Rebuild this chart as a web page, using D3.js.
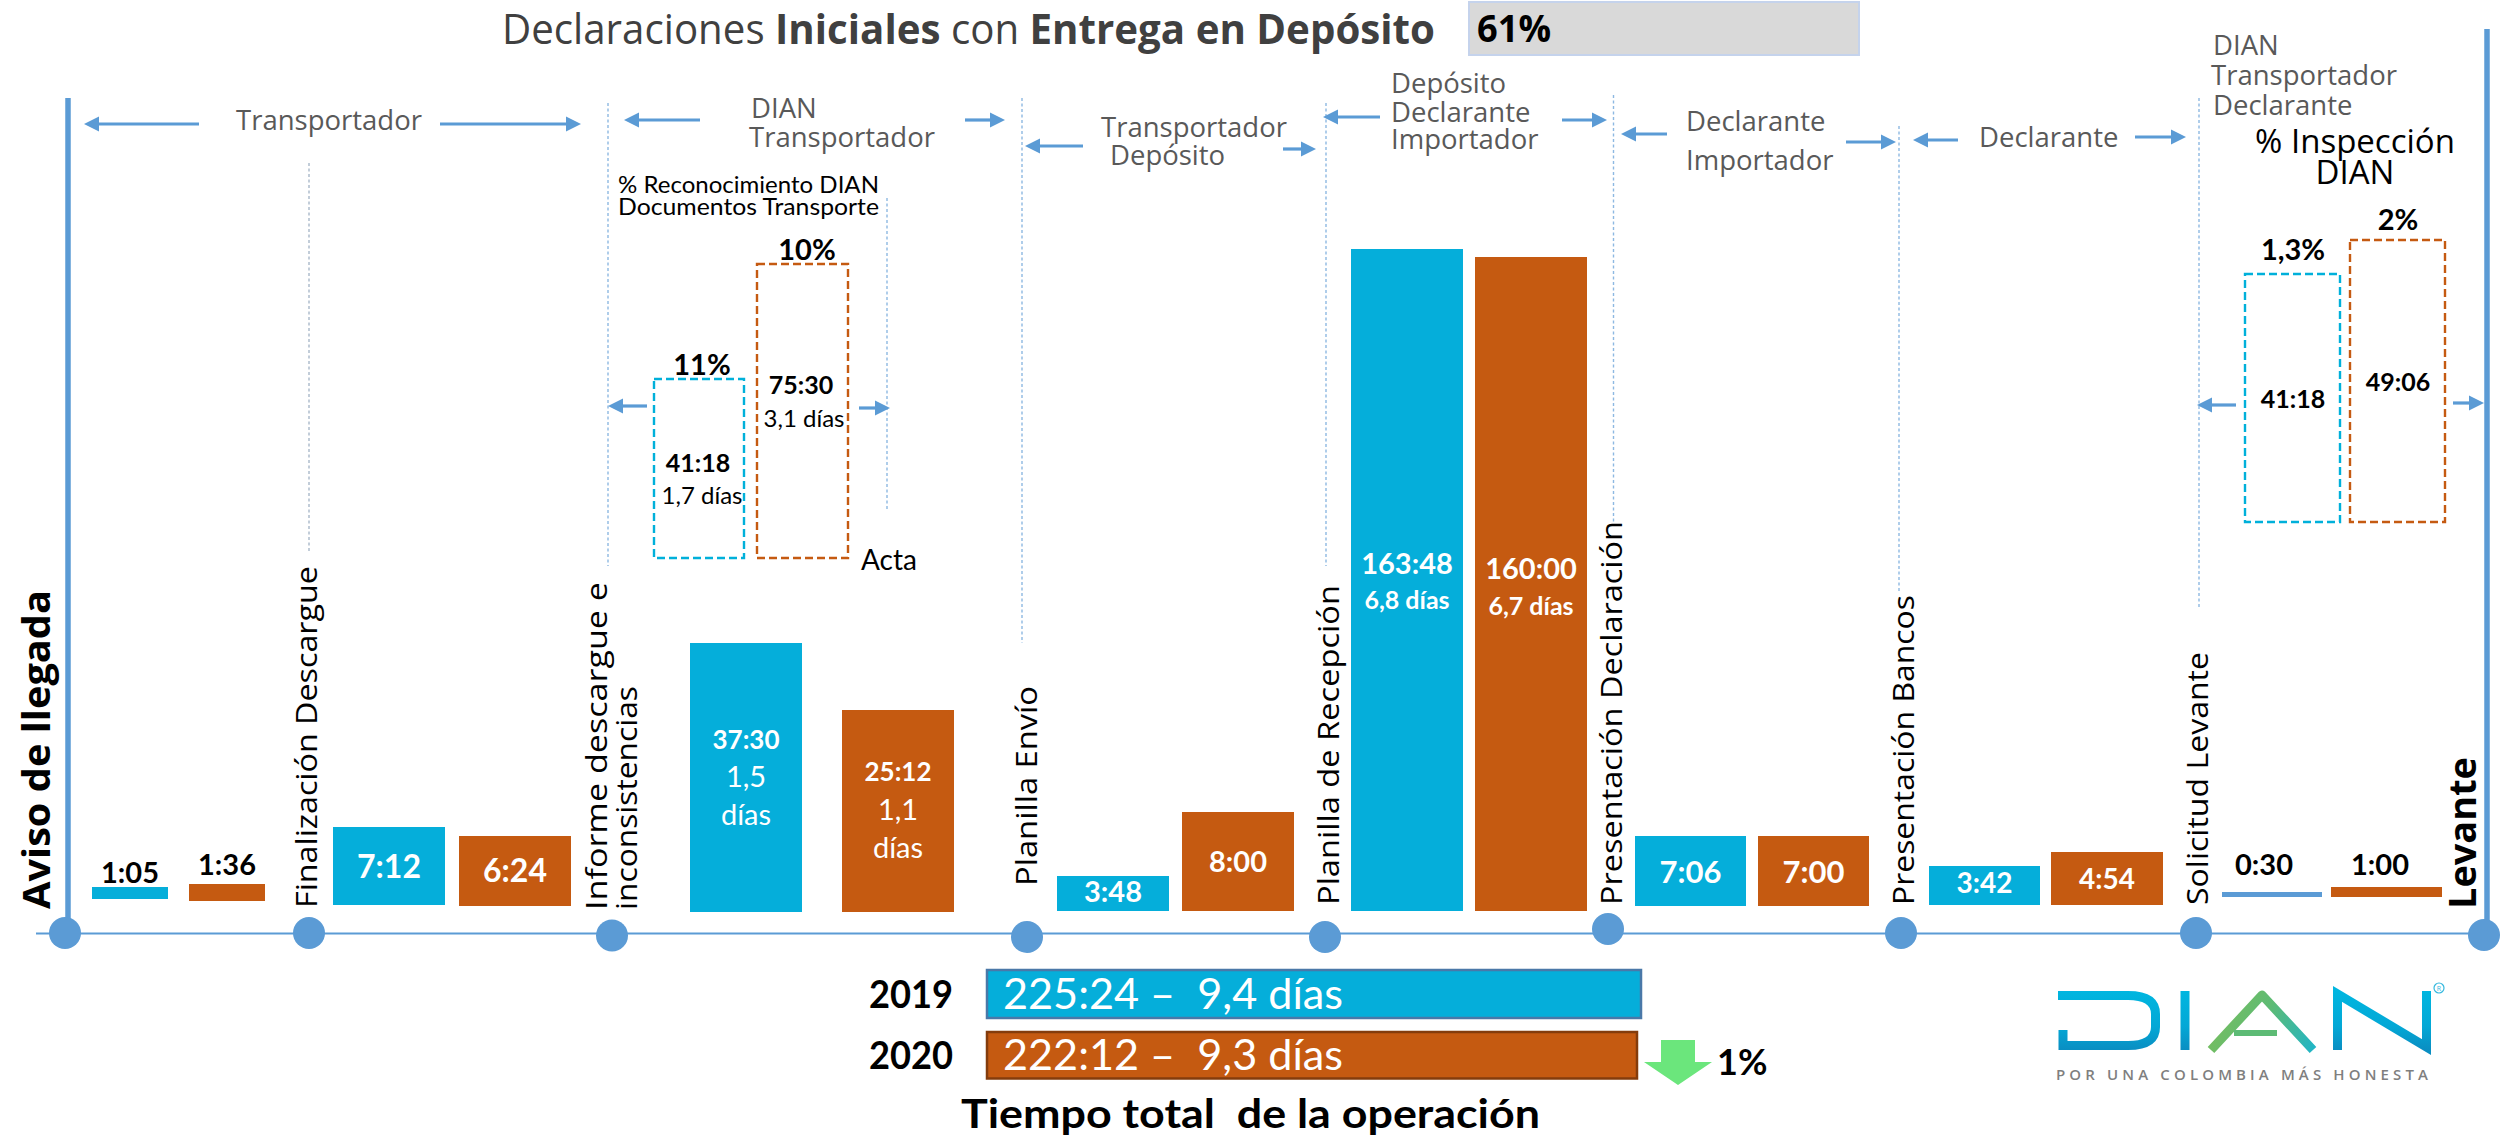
<!DOCTYPE html>
<html lang="es">
<head>
<meta charset="utf-8">
<title>Declaraciones Iniciales con Entrega en Depósito</title>
<script src="https://cdn.jsdelivr.net/npm/d3@7/dist/d3.min.js"></script>
<style>
html,body{margin:0;padding:0;background:#fff;overflow:hidden}
svg{display:block}
text{font-family:"Open Sans",sans-serif;white-space:pre}
</style>
</head>
<body>
<svg id="chart" width="2501" height="1139"></svg>
<script>
// ---------- DATA ----------
const years = ["2019", "2020"];
const segments = ["Descargue", "Informe", "Planilla Envío", "Planilla Recepción", "Declaración", "Bancos", "Levante solicitud", "Levante"];
const times2019 = ["1:05", "7:12", "37:30", "3:48", "163:48", "7:06", "3:42", "0:30"];
const times2020 = ["1:36", "6:24", "25:12", "8:00", "160:00", "7:00", "4:54", "1:00"];
const days2019 = [null, null, ["1,5", "días"], null, ["6,8 días"], null, null, null];
const days2020 = [null, null, ["1,1", "días"], null, ["6,7 días"], null, null, null];
const reconocimientoTimes = ["41:18", "75:30"];
const reconocimientoDays = ["1,7 días", "3,1 días"];
const reconocimientoPct = ["11%", "10%"];
const inspeccionTimes = ["41:18", "49:06"];
const inspeccionPct = ["1,3%", "2%"];
const totalTimes = ["225:24", "222:12"];
const totalDays = ["9,4 días", "9,3 días"];
const titleParts = [["Declaraciones ", 400], ["Iniciales", 700], [" con ", 400], ["Entrega en Depósito", 700]];
const depositShare = "61%";
const reduction = "1%";
const milestoneNames = [["Aviso de llegada"], ["Finalización Descargue"], ["Informe descargue e", "inconsistencias"], ["Planilla Envío"], ["Planilla de Recepción"], ["Presentación Declaración"], ["Presentación Bancos"], ["Solicitud Levante"], ["Levante"]];
const actorGroups = [["Transportador"], ["DIAN", "Transportador"], ["Transportador", "Depósito"], ["Depósito", "Declarante", "Importador"], ["Declarante", "Importador"], ["Declarante"], ["DIAN", "Transportador", "Declarante"]];

// ---------- LAYOUT ----------
const hours = s => { const [h, m] = s.split(":").map(Number); return h + m / 60; };
const BLUE = "#05AEDA", ORANGE = "#C55A11", STEEL = "#5B9BD5", GREY = "#595959";
const svg = d3.select("#chart");

// The picture's bars are not proportional to time, so their length follows a piecewise scale.
const barLength = d3.scaleLinear()
  .domain([0.5, 1, 65 / 60, 1.6, 3.7, 3.8, 4.9, 6.4, 7, 7.1, 7.2, 8, 25.2, 37.5, 160, 163.8])
  .range([5, 10, 12, 17, 39, 35, 53, 70, 70, 70, 78, 99, 202, 269, 654, 662]);
const boxLengthLeft = d3.scaleLinear().domain([hours("41:18"), hours("75:30")]).range([179, 294]);
const boxLengthRight = d3.scaleLinear().domain([hours("41:18"), hours("49:06")]).range([248, 282]);
const totalLength = d3.scaleLinear().domain([0, hours("222:12"), hours("225:24")]).range([0, 650, 654]);

const left = {
  "2019": d3.scaleOrdinal(segments, [92, 333, 690, 1057, 1351, 1635, 1929, 2222]),
  "2020": d3.scaleOrdinal(segments, [189, 459, 842, 1182, 1475, 1758, 2051, 2331])
};
const width = {
  "2019": d3.scaleOrdinal(segments, [76, 112, 112, 112, 112, 111, 111, 100]),
  "2020": d3.scaleOrdinal(segments, [76, 112, 112, 112, 112, 111, 112, 111])
};
const base = {
  "2019": d3.scaleOrdinal(segments, [899, 905, 912, 911, 911, 906, 905, 897]),
  "2020": d3.scaleOrdinal(segments, [901, 906, 912, 911, 911, 906, 905, 897])
};
// label anchors: [baseline of the time, baseline(s) of the days]
const labelY = {
  "2019": [[883], [878], [749, 787, 825], [902], [574, 609], [883], [893], [875]],
  "2020": [[875], [882], [781, 820, 858], [872], [579, 615], [883], [889], [875]]
};
const labelSize = [29, 32, 26, 29, 29, 31, 28, 29];

const milestoneX = [65, 309, 612, 1027, 1325, 1608, 1901, 2196, 2484];
const milestoneY = [933, 933, 935.5, 937, 937, 929, 933, 933, 935];

function txt(x, y, s, o = {}) {
  const t = svg.append("text").attr("x", x).attr("y", y).text(s)
    .attr("font-size", o.size || 27).attr("fill", o.fill || "#000")
    .attr("font-weight", o.weight || 400).attr("text-anchor", o.anchor || "start")
    .style("font-family", o.font || null);
  if (o.len) t.attr("textLength", o.len).attr("lengthAdjust", o.adjust || "spacingAndGlyphs");
  return t;
}
function vtxt(x, y, s, o = {}) {
  const t = svg.append("text").attr("transform", `translate(${x},${y}) rotate(-90)`).text(s)
    .attr("font-size", o.size || 30).attr("fill", "#000").attr("font-weight", o.weight || 400);
  if (o.len) t.attr("textLength", o.len).attr("lengthAdjust", "spacingAndGlyphs");
  return t;
}
function arrow(tail, tip, y) {
  const d = tip > tail ? 1 : -1;
  svg.append("line").attr("x1", tail).attr("x2", tip - d * 12).attr("y1", y).attr("y2", y)
    .attr("stroke", STEEL).attr("stroke-width", 3.2);
  svg.append("path").attr("fill", STEEL)
    .attr("d", d3.line()([[tip, y], [tip - d * 15, y - 7.5], [tip - d * 15, y + 7.5]]) + "Z");
}

// ---------- TITLE ----------
const title = svg.append("text").attr("x", 502).attr("y", 44).attr("font-size", 42).attr("fill", "#404040")
  .attr("textLength", 933).attr("lengthAdjust", "spacingAndGlyphs");
title.selectAll("tspan").data(titleParts).join("tspan").text(d => d[0]).attr("font-weight", d => d[1]);
svg.append("rect").attr("x", 1469).attr("y", 2).attr("width", 390).attr("height", 53)
  .attr("fill", "#D9D9D9").attr("stroke", "#C5D3EC").attr("stroke-width", 2);
txt(1477, 42, depositShare, { size: 38, weight: 700, len: 74 });

// ---------- TIMELINE ----------
[[68, 98], [2487, 29]].forEach(([x, y0]) =>
  svg.append("line").attr("x1", x).attr("x2", x).attr("y1", y0).attr("y2", 933)
    .attr("stroke", STEEL).attr("stroke-width", 5.5));
svg.append("line").attr("x1", 36).attr("x2", 2484).attr("y1", 933.5).attr("y2", 933.5)
  .attr("stroke", STEEL).attr("stroke-width", 2);
svg.selectAll("circle.m").data(milestoneX).join("circle").attr("class", "m")
  .attr("cx", d => d).attr("cy", (d, i) => milestoneY[i]).attr("r", 16).attr("fill", STEEL);

// dotted separators
const dotted = [[309, 163, 551, "#A9B8C9"], [608, 103, 566], [887, 198, 509], [1022, 98, 643], [1326, 103, 566], [1613.5, 95, 526], [1899, 126, 591], [2199, 98, 609]];
dotted.forEach(([x, a, b, c]) => svg.append("line").attr("x1", x).attr("x2", x).attr("y1", a).attr("y2", b)
  .attr("stroke", c || "#8DB8E2").attr("stroke-width", 1.4).attr("stroke-dasharray", "3 2.5"));

// actor arrows
[[199, 84, 124], [440, 581, 124], [700, 624, 120], [965, 1005, 120], [1083, 1025, 146], [1283, 1316, 149],
 [1380, 1323, 117], [1562, 1607, 120], [1667, 1621, 134], [1846, 1896, 142], [1958, 1913, 140], [2135, 2186, 137],
 [647, 608, 406], [859, 890, 408], [2236, 2197, 405], [2453, 2484, 403]].forEach(a => arrow(...a));

// actor labels
const actorPos = [[[236, 130]], [[751, 118], [749, 147]], [[1101, 137], [1110, 165]], [[1391, 93], [1391, 122], [1391, 149]],
  [[1686, 131], [1686, 170]], [[1979, 147]], [[2213, 55], [2211, 85], [2213, 115]]];
actorGroups.forEach((g, i) => g.forEach((s, j) => txt(actorPos[i][j][0], actorPos[i][j][1], s, { size: 27.5, fill: GREY })));

// milestone names
const nameX = [[50], [317], [607, 637], [1037], [1339], [1622], [1914], [2208], [2476]];
const nameY = [909, 908, 910, 886, 905, 905, 905, 905, 909];
const nameLen = [[319], [342], [328, 224], [200], [320], [384], [310], [253], [152]];
milestoneNames.forEach((n, i) => n.forEach((s, j) =>
  vtxt(nameX[i][j], nameY[i], s, { size: (i === 0 || i === 8) ? 38 : 30, weight: (i === 0 || i === 8) ? 700 : 400, len: nameLen[i][j] })));

// ---------- BARS ----------
const barRows = segments.flatMap((seg, i) => [
  { seg, i, year: "2019", t: times2019[i], days: days2019[i] },
  { seg, i, year: "2020", t: times2020[i], days: days2020[i] }
]);
svg.selectAll("rect.bar").data(barRows).join("rect").attr("class", "bar")
  .attr("x", d => left[d.year](d.seg))
  .attr("width", d => width[d.year](d.seg))
  .attr("y", d => base[d.year](d.seg) - barLength(hours(d.t)))
  .attr("height", d => barLength(hours(d.t)))
  .attr("fill", d => (d.year === "2019" ? (d.i === 7 ? STEEL : BLUE) : ORANGE));

barRows.forEach(d => {
  const cx = left[d.year](d.seg) + width[d.year](d.seg) / 2;
  const ys = labelY[d.year][d.i];
  const outside = d.i === 0 || d.i === 7;
  txt(outside && d.i === 7 ? (d.year === "2019" ? 2264 : 2380) : cx, ys[0], d.t, {
    size: labelSize[d.i], weight: 700, anchor: "middle", fill: outside ? "#000" : "#fff", font: "Lato"
  });
  (d.days || []).forEach((s, j) => txt(cx, ys[j + 1], s, {
    size: d.i === 4 ? 25 : 29, weight: d.i === 4 ? 700 : 400, anchor: "middle", fill: "#fff", font: "Lato"
  }));
});

// ---------- DASHED BOXES ----------
function dashedBox(x, w, bottom, h, color) {
  svg.append("rect").attr("x", x).attr("y", bottom - h).attr("width", w).attr("height", h)
    .attr("fill", "none").attr("stroke", color).attr("stroke-width", 2.4).attr("stroke-dasharray", "8 4");
}
dashedBox(654, 90, 558, boxLengthLeft(hours(reconocimientoTimes[0])), "#00B0DA");
dashedBox(757, 91, 558, boxLengthLeft(hours(reconocimientoTimes[1])), ORANGE);
dashedBox(2245, 95, 522, boxLengthRight(hours(inspeccionTimes[0])), "#00B0DA");
dashedBox(2350, 95, 522, boxLengthRight(hours(inspeccionTimes[1])), ORANGE);

txt(618, 193, "% Reconocimiento DIAN", { size: 23, len: 261, font: "Lato" });
txt(618, 215, "Documentos Transporte", { size: 23, len: 261, font: "Lato" });
txt(861, 570, "Acta", { size: 28, font: "Lato" });
txt(702, 375, reconocimientoPct[0], { size: 29, weight: 700, anchor: "middle", font: "Lato" });
txt(807, 260, reconocimientoPct[1], { size: 29, weight: 700, anchor: "middle", font: "Lato" });
txt(698, 471.5, reconocimientoTimes[0], { size: 25, weight: 700, anchor: "middle", font: "Lato" });
txt(702, 504, reconocimientoDays[0], { size: 24, anchor: "middle", font: "Lato" });
txt(801, 394, reconocimientoTimes[1], { size: 25, weight: 700, anchor: "middle", font: "Lato" });
txt(804, 427, reconocimientoDays[1], { size: 24, anchor: "middle", font: "Lato" });

txt(2355, 153, "% Inspección", { size: 33, anchor: "middle" });
txt(2355, 184, "DIAN", { size: 33, anchor: "middle" });
txt(2293, 260, inspeccionPct[0], { size: 29, weight: 700, anchor: "middle", font: "Lato" });
txt(2398, 230, inspeccionPct[1], { size: 29, weight: 700, anchor: "middle", font: "Lato" });
txt(2293, 408, inspeccionTimes[0], { size: 25, weight: 700, anchor: "middle", font: "Lato" });
txt(2398, 391, inspeccionTimes[1], { size: 25, weight: 700, anchor: "middle", font: "Lato" });

// ---------- TOTALS ----------
years.forEach((y, i) => {
  const top = [970, 1032][i], h = [48, 46.5][i];
  svg.append("rect").attr("x", 987).attr("y", top).attr("height", h)
    .attr("width", totalLength(hours(totalTimes[i])))
    .attr("fill", i ? ORANGE : BLUE).attr("stroke", i ? "#843C0C" : "#4A78A8").attr("stroke-width", 2.5);
  txt(869, [1008, 1069][i], y, { size: 38, weight: 700, font: "Lato", len: 84 });
  txt(1003, [1009, 1070][i], `${totalTimes[i]} –  ${totalDays[i]}`, { size: 43, fill: "#fff", font: "Lato", len: 340 });
});
txt(961, 1128, "Tiempo total  de la operación", { size: 41, weight: 700, font: "Lato", len: 579 });
svg.append("path").attr("fill", "#6BE67C")
  .attr("d", d3.line()([[1661, 1040], [1695, 1040], [1695, 1062], [1712, 1062], [1678, 1085], [1644, 1062], [1661, 1062]]) + "Z");
txt(1717, 1075, reduction, { size: 36, weight: 700, font: "Lato" });

// ---------- LOGO ----------
const defs = svg.append("defs");
const grad = defs.append("linearGradient").attr("id", "lg").attr("gradientUnits", "userSpaceOnUse")
  .attr("x1", 0).attr("x2", 0).attr("y1", 990).attr("y2", 1050);
grad.append("stop").attr("offset", 0).attr("stop-color", "#00B6E0");
grad.append("stop").attr("offset", .6).attr("stop-color", "#03A8D6");
grad.append("stop").attr("offset", 1).attr("stop-color", "#0A8EC2");
const ag = defs.append("linearGradient").attr("id", "la").attr("gradientUnits", "userSpaceOnUse")
  .attr("x1", 2210).attr("x2", 2315).attr("y1", 1000).attr("y2", 1050);
ag.append("stop").attr("offset", 0).attr("stop-color", "#7DBE5A");
ag.append("stop").attr("offset", .5).attr("stop-color", "#5DBB75");
ag.append("stop").attr("offset", 1).attr("stop-color", "#1FB5C8");
const logo = svg.append("g").attr("fill", "none");
logo.append("path").attr("stroke", "url(#lg)").attr("stroke-width", 9)
  .attr("d", "M2058,995.5H2128Q2155.5,995.5 2155.5,1014V1027Q2155.5,1045.5 2128,1045.5H2063V1030");
logo.append("path").attr("stroke", "url(#lg)").attr("stroke-width", 9).attr("d", "M2185,991V1050");
logo.append("path").attr("stroke", "url(#la)").attr("stroke-width", 9)
  .attr("stroke-linejoin", "round").attr("d", "M2211,1050L2262,995L2313,1050");
logo.append("path").attr("stroke", "#5DBB75").attr("stroke-width", 6).attr("d", "M2234,1033H2277");
logo.append("path").attr("stroke", "url(#lg)").attr("stroke-width", 9)
  .attr("d", "M2337.5,1050V994L2426.5,1047V991");
logo.append("circle").attr("cx", 2439).attr("cy", 988).attr("r", 5).attr("stroke", "#35B8DE").attr("stroke-width", 1.2);
txt(2439, 991, "R", { size: 7, fill: "#35B8DE", anchor: "middle" });
txt(2056, 1080, "POR UNA COLOMBIA MÁS HONESTA", { size: 15, fill: "#7F7F7F", weight: 600, len: 372, adjust: "spacing" });
</script>
</body>
</html>
